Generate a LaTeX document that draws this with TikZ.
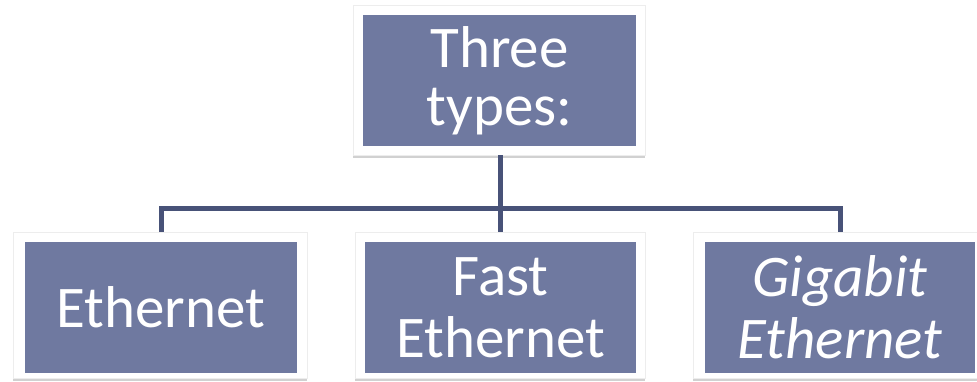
\documentclass[tikz,border=0pt]{standalone}
\usepackage{fontspec}
\setmainfont{Carlito}
\usetikzlibrary{positioning,fit,shadows,backgrounds}

\definecolor{boxblue}{RGB}{111,121,160}
\definecolor{linkblue}{RGB}{72,82,120}

\tikzset{
  label box/.style={rectangle, fill=boxblue, text=white, inner sep=0pt,
    align=center, font=\fontsize{59}{60}\selectfont},
  card/.style={rectangle, fill=white, draw=black!7, line width=0.8pt, inner sep=0pt,
    drop shadow={shadow xshift=0pt, shadow yshift=-2.5pt, opacity=0.18, fill=black}},
  link/.style={draw=linkblue, line width=5pt}
}

\begin{document}
\begin{tikzpicture}[x=1pt,y=1pt]
  \useasboundingbox (0,0) rectangle (977,381);

  % coloured label boxes (y measured upwards from the bottom edge)
  \node[label box, minimum width=273pt, minimum height=131pt] (top)
    at (499.5,300.5) {Three\\[-2pt]types:};
  \node[label box, minimum width=272pt, minimum height=131pt] (eth)
    at (161,73.5) {Ethernet};
  \node[label box, minimum width=271pt, minimum height=131pt] (fast)
    at (500.5,73.5) {Fast\\[2pt]Ethernet};
  \node[label box, minimum width=270pt, minimum height=131pt] (giga)
    at (840,73.5) {\itshape Gigabit\\[2pt]\itshape Ethernet};

  % white cards behind the label boxes
  \begin{scope}[on background layer]
    \node[card, minimum width=292pt, minimum height=150pt] (topcard) at (499,301) {};
    \node[card, minimum width=294pt, minimum height=146pt] (ethcard) at (160,76) {};
    \node[card, minimum width=290pt, minimum height=146pt] (fastcard) at (500,76) {};
    \node[card, minimum width=290pt, minimum height=146pt] (gigacard) at (838,76) {};
  \end{scope}

  % tree connectors
  \coordinate (bus) at (0,173);
  \draw[link] (topcard.south -| fast.center) -- (fastcard.north -| fast.center);
  \draw[link] (ethcard.north -| eth.center) -- (bus -| eth.center)
              -- (bus -| giga.center) -- (gigacard.north -| giga.center);
\end{tikzpicture}
\end{document}
